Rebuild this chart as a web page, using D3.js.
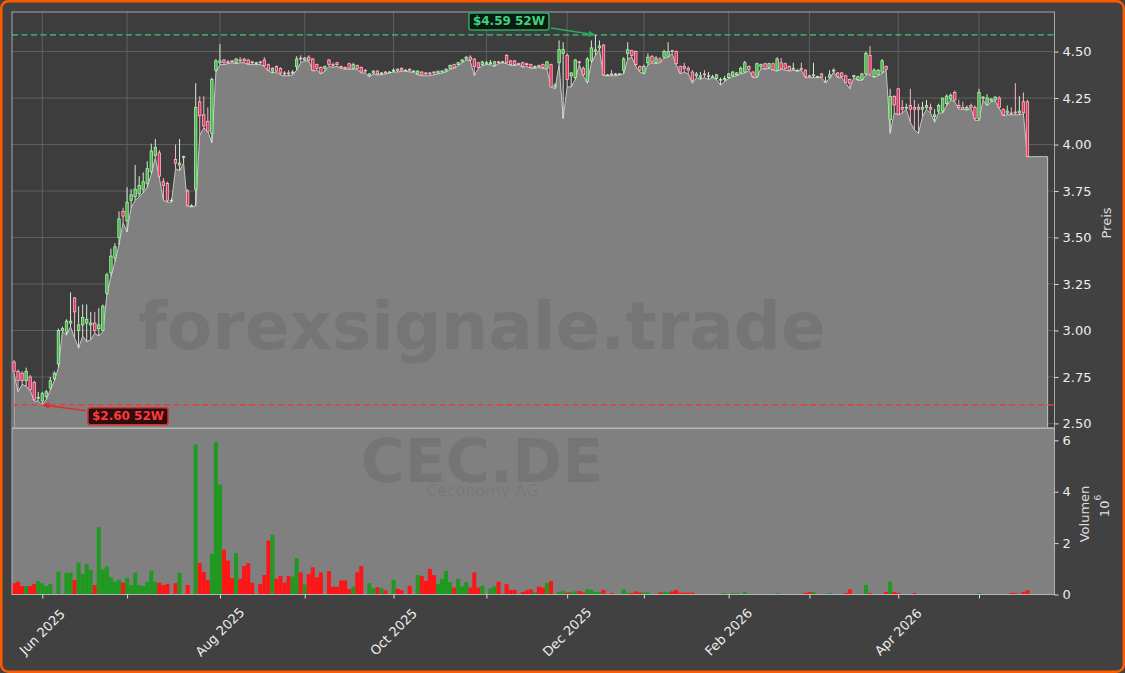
<!DOCTYPE html>
<html><head><meta charset="utf-8">
<script src="https://cdn.jsdelivr.net/npm/d3@7/dist/d3.min.js"></script>
<style>html,body{margin:0;padding:0;background:#414141;}svg{display:block;font-family:"DejaVu Sans",sans-serif;}</style>
</head><body>
<svg id="chart" width="1125" height="673"></svg>
<script>
// ---------------- DATA ----------------
const startDate = "2025-05-22";
const endDate = "2026-05-27";
const holidays = ["2025-12-24","2025-12-25","2025-12-26","2025-12-31","2026-01-01","2026-04-03","2026-04-06","2026-05-01"];
const tickLabels = ["Jun 2025","Aug 2025","Oct 2025","Dec 2025","Feb 2026","Apr 2026"];
const priceTicks = [2.50,2.75,3.00,3.25,3.50,3.75,4.00,4.25,4.50];
const volumeTicks = [0,2,4,6];

const open = [
2.83,2.78,2.77,2.73,2.75,2.72,2.64,2.62,2.645,2.69,
2.74,2.82,3.00,2.99,3.04,3.175,3.00,3.03,3.04,3.03,
3.04,3.01,3.00,3.20,3.31,3.39,3.50,3.64,3.59,3.70,
3.72,3.735,3.76,3.79,3.855,3.94,3.955,3.80,3.79,3.70,
3.92,3.89,3.93,3.75,3.67,3.76,4.23,4.16,4.125,4.06,
4.40,4.44,4.455,4.445,4.45,4.44,4.455,4.46,4.455,4.445,
4.435,4.445,4.455,4.43,4.395,4.42,4.41,4.385,4.385,4.385,
4.42,4.465,4.455,4.47,4.46,4.43,4.415,4.41,4.455,4.43,
4.44,4.42,4.415,4.435,4.41,4.425,4.415,4.40,4.37,4.385,
4.395,4.385,4.39,4.39,4.395,4.405,4.41,4.40,4.405,4.395,
4.38,4.39,4.385,4.385,4.39,4.385,4.39,4.395,4.41,4.43,
4.43,4.445,4.46,4.47,4.46,4.44,4.43,4.44,4.435,4.425,
4.445,4.445,4.48,4.45,4.45,4.435,4.44,4.435,4.43,4.415,
4.425,4.43,4.41,4.43,4.31,4.44,4.49,4.48,4.37,4.36,
4.445,4.41,4.34,4.45,4.50,4.52,4.535,4.375,4.38,4.375,
4.38,4.40,4.49,4.505,4.50,4.42,4.385,4.44,4.475,4.44,
4.46,4.47,4.475,4.505,4.50,4.42,4.42,4.41,4.39,4.37,
4.36,4.38,4.37,4.365,4.355,4.35,4.35,4.36,4.37,4.375,
4.385,4.39,4.42,4.39,4.366,4.42,4.435,4.415,4.435,4.40,
4.44,4.435,4.42,4.405,4.40,4.41,4.40,4.37,4.37,4.366,
4.38,4.34,4.36,4.395,4.385,4.385,4.37,4.35,4.365,4.35,
4.35,4.38,4.48,4.366,4.375,4.39,4.42,4.133,4.258,4.30,
4.20,4.20,4.21,4.20,4.20,4.19,4.20,4.20,4.15,4.18,
4.18,4.22,4.245,4.28,4.21,4.20,4.19,4.21,4.20,4.14,
4.25,4.215,4.235,4.24,4.25,4.19,4.17,4.17,4.175,4.17,
4.23,4.23,3.935,3.935,3.935,3.935,3.935];

const high = [
2.84,2.79,2.78,2.80,2.76,2.73,2.67,2.67,2.68,2.75,
2.78,3.01,3.02,3.06,3.205,3.18,3.13,3.14,3.14,3.10,
3.10,3.12,3.14,3.31,3.44,3.47,3.64,3.66,3.77,3.76,
3.89,3.83,3.85,3.91,4.005,4.03,3.97,3.82,3.80,3.71,
4.00,4.03,3.94,3.76,3.68,4.33,4.26,4.26,4.20,4.36,
4.46,4.54,4.46,4.455,4.455,4.465,4.47,4.465,4.46,4.45,
4.445,4.45,4.47,4.435,4.415,4.425,4.415,4.395,4.40,4.40,
4.475,4.48,4.47,4.48,4.465,4.435,4.42,4.425,4.46,4.44,
4.445,4.425,4.42,4.44,4.44,4.43,4.42,4.405,4.385,4.40,
4.40,4.39,4.395,4.395,4.41,4.41,4.415,4.405,4.41,4.40,
4.40,4.395,4.39,4.39,4.395,4.395,4.40,4.41,4.43,4.435,
4.445,4.46,4.475,4.48,4.465,4.445,4.45,4.45,4.455,4.45,
4.45,4.45,4.485,4.455,4.455,4.44,4.445,4.44,4.435,4.425,
4.43,4.435,4.45,4.435,4.33,4.56,4.55,4.49,4.39,4.46,
4.45,4.42,4.47,4.56,4.59,4.56,4.54,4.38,4.40,4.385,
4.385,4.47,4.55,4.51,4.505,4.425,4.43,4.49,4.48,4.475,
4.47,4.51,4.55,4.51,4.505,4.425,4.44,4.42,4.40,4.39,
4.39,4.40,4.39,4.375,4.38,4.36,4.37,4.385,4.395,4.39,
4.42,4.45,4.425,4.395,4.44,4.435,4.44,4.44,4.44,4.47,
4.465,4.44,4.425,4.44,4.405,4.44,4.405,4.375,4.44,4.37,
4.385,4.366,4.40,4.41,4.39,4.39,4.375,4.355,4.375,4.37,
4.385,4.50,4.53,4.41,4.405,4.46,4.425,4.30,4.265,4.305,
4.24,4.22,4.30,4.24,4.22,4.23,4.24,4.22,4.19,4.22,
4.25,4.27,4.275,4.29,4.24,4.23,4.21,4.22,4.21,4.30,
4.26,4.27,4.25,4.26,4.26,4.195,4.21,4.20,4.33,4.26,
4.28,4.24,3.935,3.935,3.935,3.935,3.935];

const low = [
2.77,2.67,2.71,2.70,2.68,2.62,2.62,2.60,2.63,2.68,
2.73,2.80,2.995,2.975,3.02,2.96,2.905,2.97,2.94,2.95,
2.985,2.97,2.995,3.19,3.29,3.37,3.46,3.58,3.53,3.66,
3.70,3.72,3.74,3.77,3.84,3.93,3.82,3.70,3.69,3.69,
3.87,3.86,3.90,3.67,3.665,3.67,4.05,4.09,4.07,4.01,
4.39,4.43,4.43,4.435,4.44,4.435,4.44,4.44,4.43,4.43,
4.43,4.43,4.42,4.395,4.385,4.39,4.375,4.37,4.37,4.375,
4.40,4.44,4.45,4.45,4.395,4.40,4.38,4.395,4.42,4.415,
4.42,4.41,4.405,4.405,4.405,4.405,4.385,4.385,4.365,4.38,
4.375,4.375,4.38,4.385,4.39,4.39,4.395,4.395,4.39,4.39,
4.375,4.37,4.37,4.37,4.375,4.38,4.385,4.39,4.405,4.41,
4.425,4.44,4.455,4.45,4.37,4.41,4.425,4.43,4.43,4.42,
4.435,4.44,4.435,4.425,4.425,4.43,4.415,4.42,4.41,4.41,
4.415,4.41,4.405,4.31,4.30,4.43,4.14,4.31,4.31,4.35,
4.43,4.37,4.33,4.44,4.48,4.51,4.37,4.37,4.37,4.37,
4.375,4.38,4.46,4.47,4.42,4.39,4.38,4.43,4.44,4.435,
4.44,4.465,4.47,4.49,4.43,4.38,4.39,4.38,4.33,4.36,
4.35,4.36,4.35,4.36,4.35,4.32,4.34,4.355,4.365,4.37,
4.38,4.385,4.40,4.36,4.36,4.41,4.405,4.41,4.40,4.395,
4.405,4.40,4.395,4.40,4.395,4.40,4.36,4.36,4.36,4.36,
4.36,4.335,4.355,4.39,4.36,4.36,4.33,4.30,4.36,4.345,
4.345,4.375,4.375,4.36,4.37,4.385,4.40,4.06,4.17,4.16,
4.17,4.19,4.12,4.08,4.06,4.15,4.19,4.17,4.12,4.17,
4.17,4.21,4.24,4.23,4.19,4.19,4.185,4.195,4.13,4.13,
4.24,4.21,4.23,4.235,4.195,4.155,4.16,4.16,4.16,4.16,
4.165,3.935,3.935,3.935,3.935,3.935,3.935];

const close = [
2.78,2.73,2.73,2.78,2.68,2.63,2.64,2.66,2.67,2.73,
2.77,3.00,3.01,3.05,3.05,3.10,3.03,3.07,3.06,3.04,
3.00,3.03,3.13,3.30,3.40,3.45,3.60,3.615,3.69,3.73,
3.76,3.78,3.80,3.87,3.965,3.985,3.83,3.78,3.70,3.70,
3.90,3.90,3.935,3.67,3.67,4.20,4.155,4.10,4.07,4.35,
4.45,4.45,4.44,4.44,4.445,4.46,4.45,4.45,4.435,4.44,
4.44,4.44,4.425,4.40,4.41,4.395,4.385,4.38,4.38,4.39,
4.46,4.46,4.465,4.455,4.40,4.41,4.385,4.42,4.43,4.425,
4.43,4.415,4.41,4.41,4.43,4.41,4.39,4.395,4.38,4.395,
4.38,4.385,4.385,4.39,4.40,4.40,4.40,4.40,4.40,4.395,
4.395,4.375,4.38,4.38,4.385,4.395,4.395,4.405,4.425,4.415,
4.44,4.455,4.47,4.455,4.42,4.415,4.445,4.44,4.44,4.445,
4.44,4.445,4.44,4.43,4.43,4.435,4.42,4.43,4.415,4.42,
4.42,4.415,4.445,4.31,4.32,4.51,4.51,4.35,4.385,4.455,
4.44,4.375,4.46,4.52,4.51,4.53,4.375,4.375,4.375,4.38,
4.38,4.46,4.51,4.48,4.43,4.40,4.42,4.47,4.445,4.465,
4.445,4.50,4.50,4.50,4.435,4.39,4.41,4.40,4.345,4.38,
4.37,4.375,4.37,4.365,4.375,4.35,4.355,4.38,4.39,4.385,
4.41,4.44,4.405,4.366,4.435,4.43,4.41,4.435,4.405,4.46,
4.41,4.41,4.40,4.41,4.40,4.405,4.366,4.366,4.375,4.366,
4.362,4.34,4.375,4.40,4.366,4.366,4.335,4.33,4.37,4.365,
4.38,4.49,4.38,4.40,4.40,4.45,4.405,4.258,4.213,4.163,
4.19,4.20,4.19,4.19,4.19,4.20,4.21,4.19,4.16,4.21,
4.25,4.26,4.265,4.24,4.20,4.19,4.20,4.20,4.14,4.28,
4.255,4.25,4.245,4.255,4.20,4.16,4.18,4.165,4.17,4.18,
4.17,3.935,3.935,3.935,3.935,3.935,3.935];

// volume in millions (10^6)
const volume = [
0.44,0.50,0.33,0.33,0.33,0.41,0.52,0.44,0.33,0.41,
0,0.89,0,0.85,0.85,0.57,1.24,0.80,1.19,0.96,
0.37,2.62,0.98,1.09,0.67,0.50,0.57,0.46,0.65,0.37,
0.85,0.36,0.33,0.49,0.93,0.49,0.46,0.37,0.41,0,
0.44,0.85,0,0.37,0,5.84,1.22,0.88,0.57,1.58,
5.93,4.28,1.74,1.32,0.64,1.61,0.61,1.11,1.22,0.46,
0,0.41,0.76,2.10,2.32,0.61,0.72,0.46,0.72,0.70,
1.42,0.86,0.39,0.80,1.06,0.67,0.86,0,0.91,0.30,
0.30,0.55,0.55,0.21,0.31,0.86,1.11,0,0.44,0.25,
0.28,0.24,0.16,0,0.57,0.22,0.16,0,0.34,0,
0.76,0.72,0.53,1.00,0.76,0.41,0.61,0.92,0.48,0.27,
0.61,0.31,0.48,0.27,0.86,0.27,0.34,0,0.24,0.31,
0.50,0,0.41,0.18,0.18,0,0.10,0.16,0.20,0.09,
0.31,0.27,0.45,0.53,0,0.10,0.14,0.08,0.10,0.12,
0.14,0.08,0.20,0.18,0.10,0.10,0.18,0,0.06,0,
0,0.20,0.07,0.06,0.12,0.08,0.08,0.08,0,0,
0.08,0.10,0.09,0.12,0.18,0.07,0.07,0.07,0.07,0,
0,0,0,0,0,0,0.06,0,0.06,0.06,
0,0.10,0,0,0,0,0,0,0,0.06,
0,0,0,0,0,0,0.06,0.10,0.10,0,
0,0,0.06,0,0,0,0.06,0.20,0,0,
0,0.37,0.06,0,0,0,0.10,0.50,0.10,0.06,
0,0,0,0.06,0,0,0,0,0,0,
0,0,0,0,0,0,0,0,0,0.06,
0,0,0,0,0,0,0,0.06,0.06,0,
0.10,0.16,0,0,0,0,0];

// ---------------- DATES (trading days) ----------------
const parse = d3.utcParse("%Y-%m-%d"), fmtD = d3.utcFormat("%Y-%m-%d"), fmtM = d3.utcFormat("%b %Y");
const dates = d3.utcDay.range(parse(startDate), d3.utcDay.offset(parse(endDate), 1))
  .filter(d => d.getUTCDay() % 6 !== 0 && !holidays.includes(fmtD(d)));
const monthIdx = dates.map((d, i) => (i > 0 && d.getUTCMonth() !== dates[i-1].getUTCMonth()) ? i : -1).filter(i => i >= 0);

const bars = close.map((c, i) => ({i, o: open[i], h: high[i], l: low[i], c, v: volume[i], up: c >= open[i]}));
const n = bars.length;

// ---------------- LAYOUT ----------------
const W = 1125, H = 673;
const L = 12, R = 1054.5, PT = 12, PB = 427.7, VT = 428.5, VB = 594.5;
const svg = d3.select("#chart");

const x = d3.scaleLinear().domain([-0.5, n + 0.7]).range([L, R]);
const step = x(1) - x(0);
const yP = d3.scaleLinear().domain([2.477, 4.713]).range([PB, PT]);
const yV = d3.scaleLinear().domain([0, 6.46]).range([VB, VT]);

// figure background with orange border
svg.append("rect").attr("x", 1.25).attr("y", 1.25).attr("width", W - 2.5).attr("height", H - 2.5)
  .attr("rx", 7).attr("fill", "#414141").attr("stroke", "#ff5a00").attr("stroke-width", 2.5);

const defs = svg.append("defs");
defs.append("clipPath").attr("id", "clipP").append("rect").attr("x", L).attr("y", PT).attr("width", R - L).attr("height", PB - PT);

// ---------------- PRICE PANEL ----------------
const gP = svg.append("g").attr("clip-path", "url(#clipP)");
gP.append("rect").attr("x", L).attr("y", PT).attr("width", R - L).attr("height", PB - PT).attr("fill", "#3d3d3d");

gP.selectAll("line.hg").data(priceTicks).join("line").attr("class", "hg")
  .attr("x1", L).attr("x2", R).attr("y1", d => yP(d)).attr("y2", d => yP(d))
  .attr("stroke", "#686868").attr("stroke-width", 0.8);
gP.selectAll("line.vg").data(monthIdx).join("line").attr("class", "vg")
  .attr("x1", d => x(d)).attr("x2", d => x(d)).attr("y1", PT).attr("y2", PB)
  .attr("stroke", "#686868").attr("stroke-width", 0.8);

const area = d3.area().x(d => x(d.i)).y0(PB + 2).y1(d => yP(d.l));
gP.append("path").datum(bars).attr("d", area).attr("fill", "#808080")
  .attr("stroke", "#c6c6c6").attr("stroke-width", 1);

// watermark
gP.append("text").attr("x", 482).attr("y", 349).attr("text-anchor", "middle")
  .attr("font-size", 66).attr("font-weight", "bold").attr("fill", "#000").attr("fill-opacity", 0.085)
  .text("forexsignale.trade");

// 52W lines
const hiIdx = d3.maxIndex(high), loIdx = d3.minIndex(low);
const hi52 = high[hiIdx], lo52 = low[loIdx];
gP.append("line").attr("x1", L).attr("x2", R).attr("y1", yP(hi52)).attr("y2", yP(hi52))
  .attr("stroke", "#3cb371").attr("stroke-opacity", 0.85).attr("stroke-width", 1.7).attr("stroke-dasharray", "6,3.5");
gP.append("line").attr("x1", L).attr("x2", R).attr("y1", yP(lo52)).attr("y2", yP(lo52))
  .attr("stroke", "#e04040").attr("stroke-opacity", 0.85).attr("stroke-width", 1.7).attr("stroke-dasharray", "6,3.5");

// candles
const cb = bars.filter(d => d.h > d.l);
const bw = step * 0.6;
gP.selectAll("line.wick").data(cb).join("line").attr("class", "wick")
  .attr("x1", d => x(d.i)).attr("x2", d => x(d.i)).attr("y1", d => yP(d.h)).attr("y2", d => yP(d.l))
  .attr("stroke", d => d.up ? "#d4ecd4" : "#f3b9c6").attr("stroke-width", 1);
gP.selectAll("rect.body").data(cb).join("rect").attr("class", "body")
  .attr("x", d => x(d.i) - bw / 2).attr("width", bw)
  .attr("y", d => yP(Math.max(d.o, d.c)))
  .attr("height", d => Math.max(0.8, Math.abs(yP(d.o) - yP(d.c))))
  .attr("fill", d => d.up ? "#47b547" : "#e3335b")
  .attr("stroke", d => d.up ? "#b4eeb4" : "#ffb8c8").attr("stroke-width", 0.8);

// panel frame
svg.append("rect").attr("x", L).attr("y", PT).attr("width", R - L).attr("height", PB - PT)
  .attr("fill", "none").attr("stroke", "#a8a8a8").attr("stroke-width", 1);

// annotations
function annotate(idx, val, label, col, textCol, fill, dx, dy) {
  const tx = x(idx), ty = yP(val);
  const cx = tx + dx, cy = ty + dy;
  const g = svg.append("g");
  const t = g.append("text").attr("x", cx).attr("y", cy).attr("text-anchor", "middle")
    .attr("dominant-baseline", "central").attr("font-size", 12).attr("font-weight", "bold")
    .attr("fill", textCol).text(label);
  const bb = t.node().getBBox();
  const bx = bb.x - 4, by = bb.y - 1.5, bwid = bb.width + 8, bh = bb.height + 3;
  g.insert("rect", "text").attr("x", bx).attr("y", by).attr("width", bwid).attr("height", bh)
    .attr("rx", 2.5).attr("fill", fill).attr("stroke", col).attr("stroke-width", 1.5);
  // arrow start: intersection of center->target with box border
  const vx = tx - cx, vy = ty - cy;
  const s = Math.min(Math.abs((bwid / 2 + 2) / vx), Math.abs((bh / 2 + 2) / vy));
  const sx = cx + vx * s, sy = cy + vy * s;
  const len = Math.hypot(tx - sx, ty - sy), ux = (tx - sx) / len, uy = (ty - sy) / len;
  const ah = 7, aw = 3.2;
  const bxp = tx - ux * ah, byp = ty - uy * ah;
  g.append("line").attr("x1", sx).attr("y1", sy).attr("x2", bxp).attr("y2", byp)
    .attr("stroke", col).attr("stroke-width", 1.6);
  g.append("path").attr("d", `M${tx},${ty}L${bxp - uy * aw},${byp + ux * aw}L${bxp + uy * aw},${byp - ux * aw}Z`)
    .attr("fill", col);
}
annotate(hiIdx, hi52, "$" + hi52.toFixed(2) + " 52W", "#2fa860", "#3ed27e", "#0d1a11", -86.5, -13.4);
annotate(loIdx, lo52, "$" + lo52.toFixed(2) + " 52W", "#d8302e", "#ff3a3a", "#2a0d0d", 85.7, 11.5);

// ---------------- VOLUME PANEL ----------------
svg.append("rect").attr("x", L).attr("y", VT).attr("width", R - L).attr("height", VB - VT).attr("fill", "#808080");
svg.append("text").attr("x", 482).attr("y", 482).attr("text-anchor", "middle")
  .attr("font-size", 60).attr("font-weight", "bold").attr("fill", "#000").attr("fill-opacity", 0.085).text("CEC.DE");
svg.append("text").attr("x", 482).attr("y", 496).attr("text-anchor", "middle")
  .attr("font-size", 16).attr("fill", "#000").attr("fill-opacity", 0.085).text("Ceconomy AG");

svg.append("g").selectAll("rect").data(bars.filter(d => d.v > 0)).join("rect")
  .attr("x", d => x(d.i) - step / 2).attr("width", step)
  .attr("y", d => yV(d.v)).attr("height", d => yV(0) - yV(d.v))
  .attr("fill", d => d.up ? "#1f991f" : "#ff1515");

svg.append("rect").attr("x", L).attr("y", VT).attr("width", R - L).attr("height", VB - VT)
  .attr("fill", "none").attr("stroke", "#b4b4b4").attr("stroke-width", 1);

// ---------------- AXES ----------------
function styleAxis(g) {
  g.select(".domain").remove();
  g.selectAll(".tick line").attr("stroke", "#dcdcdc").attr("stroke-width", 1);
  g.selectAll(".tick text").attr("fill", "#eeeeee").attr("font-size", 13).attr("font-family", "DejaVu Sans");
}
svg.append("g").attr("transform", `translate(${R},0)`)
  .call(d3.axisRight(yP).tickValues(priceTicks).tickFormat(d3.format(".2f")).tickSize(4).tickPadding(4))
  .call(styleAxis);
svg.append("g").attr("transform", `translate(${R},0)`)
  .call(d3.axisRight(yV).tickValues(volumeTicks).tickFormat(d3.format("d")).tickSize(4).tickPadding(4))
  .call(styleAxis);
const xa = svg.append("g").attr("transform", `translate(0,${VB})`)
  .call(d3.axisBottom(x).tickValues(monthIdx).tickFormat("").tickSize(4))
  .call(styleAxis);
svg.append("g").selectAll("text").data(monthIdx.filter(i => tickLabels.includes(fmtM(dates[i])))).join("text")
  .attr("transform", d => `translate(${x(d)},632) rotate(-45)`)
  .attr("text-anchor", "middle").attr("dominant-baseline", "central")
  .attr("font-size", 13).attr("fill", "#eeeeee").text(d => fmtM(dates[d]));

// axis labels
svg.append("text").attr("transform", "translate(1106.5,223) rotate(-90)").attr("text-anchor", "middle")
  .attr("dominant-baseline", "central").attr("font-size", 13).attr("fill", "#dddddd").text("Preis");
svg.append("text").attr("transform", "translate(1084,514) rotate(-90)").attr("text-anchor", "middle")
  .attr("dominant-baseline", "central").attr("font-size", 13).attr("fill", "#dddddd").text("Volumen");
const off = svg.append("text").attr("transform", "translate(1104,506) rotate(-90)").attr("text-anchor", "middle")
  .attr("dominant-baseline", "central").attr("font-size", 13).attr("fill", "#dddddd");
off.append("tspan").text("10");
off.append("tspan").attr("font-size", 9).attr("dy", -6).text("6");
</script>
</body></html>
